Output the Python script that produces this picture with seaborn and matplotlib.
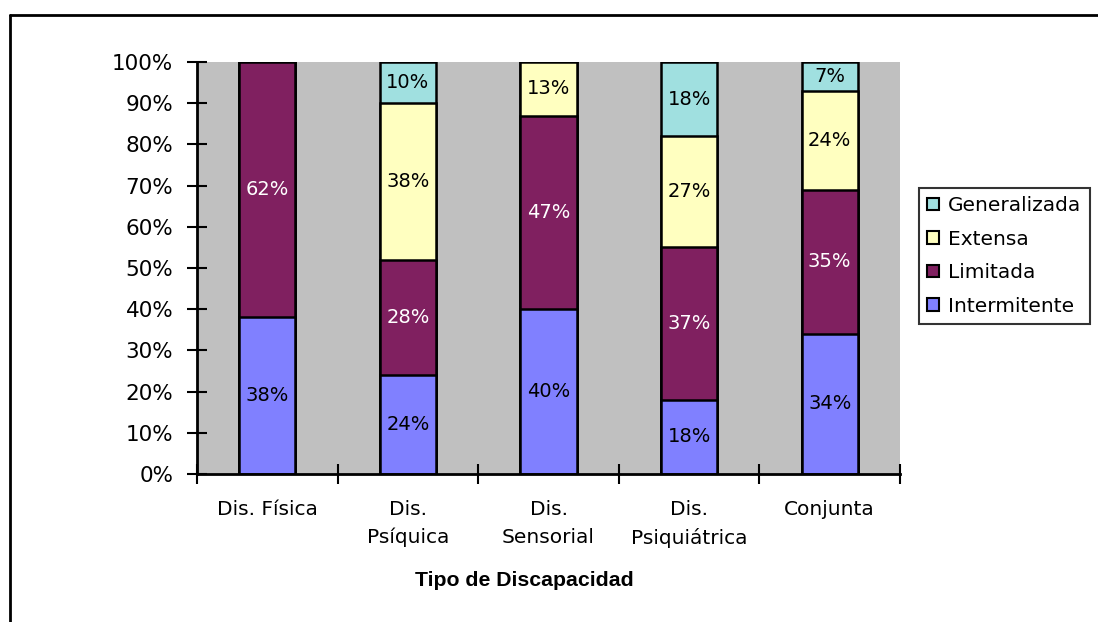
import numpy as np
import pandas as pd
import matplotlib
matplotlib.use("Agg")
import matplotlib.pyplot as plt
from matplotlib.lines import Line2D
from matplotlib.patches import Patch
import seaborn as sns

# Support-level shares (%) by disability type
categories = ["Dis. Física", "Dis.\nPsíquica", "Dis.\nSensorial", "Dis.\nPsiquiátrica", "Conjunta"]
intermitente = [38, 24, 40, 18, 34]
limitada = [62, 28, 47, 37, 35]
extensa = [0, 38, 13, 27, 24]
generalizada = [0, 10, 0, 18, 7]

series_names = ["Intermitente", "Limitada", "Extensa", "Generalizada"]
series_colors = ["#8080FF", "#802060", "#FFFFC0", "#A0E0E0"]
label_colors = ["black", "white", "black", "black"]

sns.set_theme(style="white")
plt.rcParams["font.family"] = ["DejaVu Sans"]
plt.rcParams["text.color"] = "black"
plt.rcParams["xtick.color"] = "black"
plt.rcParams["ytick.color"] = "black"

series = [intermitente, limitada, extensa, generalizada]
values = np.array(series, dtype=float)
cum = np.cumsum(values, axis=0)

fig = plt.figure(figsize=(10.98, 6.22), dpi=100)
ax = fig.add_axes([197 / 1098, 1 - 474 / 622, 703 / 1098, 412 / 622])
ax.set_facecolor("#C0C0C0")

# Stacked bars: draw cumulative totals from the top layer down
for i in range(len(series) - 1, -1, -1):
    df = pd.DataFrame({"cat": categories, "total": cum[i]})
    sns.barplot(data=df, x="cat", y="total", order=categories, color=series_colors[i],
                saturation=1, width=0.4, edgecolor="black", linewidth=1.8, ax=ax)

# Value labels centred in each segment
for i in range(len(series)):
    for j in range(len(categories)):
        v = values[i, j]
        if v > 0:
            ax.text(j, cum[i, j] - v / 2, f"{int(v)}%", ha="center", va="center",
                    fontsize=14, color=label_colors[i])

ax.set_axisbelow(False)
ax.set_xlim(-0.5, len(categories) - 0.5)
ax.set_ylim(0, 100)
ax.set_yticks(np.arange(0, 101, 10))
ax.set_yticklabels([f"{t}%" for t in range(0, 101, 10)], fontsize=15.5, color="black")

ax.set_xticks(np.arange(-0.5, len(categories), 1.0))
ax.set_xticklabels([])
ax.set_xticks(np.arange(len(categories)), minor=True)
ax.set_xticklabels(categories, minor=True, fontsize=14.5, color="black", linespacing=1.55)
ax.tick_params(axis="x", which="minor", bottom=False, length=0, pad=19)
ax.tick_params(axis="x", which="major", bottom=True, direction="inout", length=15, width=1.5,
               color="black")
ax.tick_params(axis="y", left=True, direction="inout", length=14, width=1.5, color="black", pad=10)
for lab in ax.get_xticklabels(minor=True):
    lab.set_verticalalignment("top")

ax.set_xlabel("")
ax.set_ylabel("")
for side in ["top", "right"]:
    ax.spines[side].set_visible(False)
for side in ["left", "bottom"]:
    ax.spines[side].set_color("black")
    ax.spines[side].set_linewidth(2)

fig.text(524 / 1098, 1 - 581 / 622, "Tipo de Discapacidad", ha="center", va="center",
         fontsize=15.3, fontweight="bold", family="Liberation Sans", color="black")

# Legend, top layer first
handles = [Patch(facecolor=series_colors[i], edgecolor="black", linewidth=1.5, label=series_names[i])
           for i in range(len(series) - 1, -1, -1)]
leg = fig.legend(handles=handles, loc="upper left", bbox_to_anchor=(919 / 1098, 1 - 188 / 622),
                 frameon=True, fancybox=False, fontsize=14.5, handlelength=0.6, handleheight=0.6,
                 handletextpad=0.45, borderpad=0.4, labelspacing=0.72, borderaxespad=0)
leg.get_frame().set_edgecolor("black")
leg.get_frame().set_linewidth(1.5)
leg.get_frame().set_facecolor("white")

# Outer chart frame
fig.add_artist(Line2D([10 / 1098, 1.0], [1 - 15 / 622, 1 - 15 / 622], color="black", lw=2))
fig.add_artist(Line2D([10 / 1098, 10 / 1098], [1 - 15 / 622, 0.0], color="black", lw=2))

fig.savefig("out.png", dpi=100)
